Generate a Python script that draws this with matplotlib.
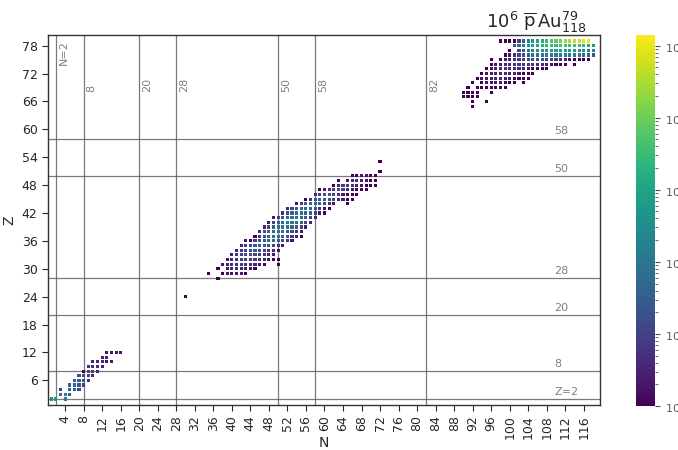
import numpy as np
import matplotlib
matplotlib.use("Agg")
import matplotlib.pyplot as plt
from matplotlib.colors import LogNorm

# each row: (Z, first N, counts for consecutive N; 0 = no entry)
light_rows = [
    (2, 1, [400, 400, 0, 150]),
    (3, 3, [120, 150, 40]),
    (4, 3, [8, 0, 60, 40, 10]),
    (5, 5, [50, 50, 25, 8]),
    (6, 6, [40, 40, 15, 5]),
    (7, 7, [20, 25, 12, 4]),
    (8, 8, [1, 12, 8, 4]),
    (9, 9, [5, 6, 5, 3]),
    (10, 10, [3, 4, 4, 2, 2]),
    (11, 12, [3, 3]),
    (12, 13, [2, 2, 2, 2]),
]

fission_rows = [
    (24, 30, [1]),
    (28, 37, [1]),
    (29, 35, [1, 0, 0, 1, 2, 2, 2, 2, 1]),
    (30, 37, [1, 0, 2, 3, 4, 3, 3, 2, 1]),
    (31, 38, [2, 3, 5, 6, 6, 5, 4, 3, 2, 1, 0, 0, 1]),
    (32, 39, [2, 4, 6, 8, 9, 8, 6, 4, 3, 2, 1, 1]),
    (33, 40, [3, 6, 10, 14, 15, 12, 8, 5, 3, 2]),
    (34, 41, [3, 7, 12, 20, 25, 22, 15, 8, 4, 2]),
    (35, 42, [3, 8, 15, 30, 40, 35, 25, 12, 5, 2]),
    (36, 43, [2, 1, 8, 20, 40, 55, 50, 35, 15, 6, 2]),
    (37, 45, [1, 6, 20, 45, 60, 65, 50, 25, 8, 3, 1]),
    (38, 46, [4, 15, 40, 65, 80, 65, 40, 15, 5, 2]),
    (39, 47, [3, 12, 35, 65, 85, 80, 55, 25, 8, 2]),
    (40, 48, [2, 10, 30, 60, 85, 90, 70, 40, 12, 3]),
    (41, 49, [2, 8, 25, 55, 80, 85, 65, 35, 10, 3]),
    (42, 51, [5, 20, 45, 70, 75, 55, 25, 8, 2, 1]),
    (43, 52, [3, 12, 35, 55, 60, 45, 20, 6, 2, 1]),
    (44, 54, [2, 8, 25, 40, 45, 35, 15, 5, 2, 0, 0, 1]),
    (45, 56, [1, 5, 15, 30, 35, 25, 10, 4, 2, 1, 1]),
    (46, 58, [3, 10, 20, 25, 15, 6, 2, 1, 1, 1]),
    (47, 59, [1, 2, 6, 12, 15, 10, 4, 2, 1, 1, 1]),
    (48, 62, [1, 3, 6, 8, 6, 3, 2, 1, 1, 1]),
    (49, 63, [1, 0, 2, 3, 4, 3, 2, 1, 1]),
    (50, 66, [1, 1, 2, 2, 1, 1]),
    (51, 72, [1]),
    (53, 72, [1]),
]

residue_rows = [
    (65, 92, [1]),
    (66, 92, [1, 0, 0, 1]),
    (67, 90, [1, 1, 1, 1]),
    (68, 90, [1, 1, 1, 1, 0, 0, 1]),
    (69, 91, [1, 0, 1, 1, 1, 1, 1, 1, 1]),
    (70, 92, [1, 0, 1, 2, 2, 2, 2, 1, 1, 1, 0, 1]),
    (71, 93, [1, 2, 2, 3, 3, 3, 2, 2, 1, 1, 1, 1]),
    (72, 94, [1, 2, 3, 3, 4, 4, 3, 3, 2, 1, 1, 1]),
    (73, 95, [1, 2, 3, 4, 5, 5, 5, 4, 3, 2, 1, 1, 1, 1]),
    (74, 96, [1, 2, 3, 4, 5, 6, 7, 7, 7, 6, 5, 4, 3, 2, 1, 1, 1, 0, 1]),
    (75, 96, [1, 0, 1, 2, 3, 5, 8, 10, 12, 15, 15, 15, 12, 10, 8, 5, 3, 2, 1, 1, 1, 1]),
    (76, 99, [1, 2, 5, 10, 20, 40, 60, 80, 100, 120, 150, 150, 150, 150, 120, 100, 80, 60, 40, 20]),
    (77, 100, [1, 0, 10, 30, 100, 200, 300, 500, 600, 700, 800, 800, 800, 700, 600, 500, 400, 300, 200]),
    (78, 101, [20, 40, 150, 400, 800, 1200, 2000, 2500, 3000, 3500, 4000, 4000, 4000, 3500, 3000, 2000, 1000, 500]),
    (79, 98, [1, 1, 1, 1, 8, 30, 150, 400, 800, 1500, 3000, 5000, 8000, 12000, 20000, 30000, 45000, 60000, 80000, 100000]),
]

magic_n = [2, 8, 20, 28, 50, 58, 82]
magic_z = [2, 8, 20, 28, 50, 58]

N, Z, C = [], [], []
for rows in (light_rows, fission_rows, residue_rows):
    for z, n0, counts in rows:
        for i, c in enumerate(counts):
            if c > 0:
                N.append(n0 + i)
                Z.append(z)
                C.append(c)
N = np.array(N)
Z = np.array(Z)
C = np.array(C, dtype=float)

fig = plt.figure(figsize=(6.78, 4.5), dpi=100)
ax = fig.add_axes([48 / 678, 45 / 450, 552 / 678, 370 / 450])
cax = fig.add_axes([636 / 678, 44 / 450, 19 / 678, 371 / 450])

for n in magic_n:
    ax.axvline(n, color="0.35", lw=0.9, alpha=0.8, zorder=1)
    if n == 2:
        ax.text(n + 0.6, 73.8, "N=2", rotation=90, ha="left", va="bottom",
                fontsize=8, color="0.5")
    else:
        ax.text(n + 0.6, 68, str(n), rotation=90, ha="left", va="bottom",
                fontsize=8, color="0.5")
for z in magic_z:
    ax.axhline(z, color="0.35", lw=0.9, alpha=0.8, zorder=1)
    lab = "Z=%d" % z if z == 2 else str(z)
    ax.text(109.6, z + 0.5, lab, ha="left", va="bottom",
            fontsize=8, color="0.5")

sc = ax.scatter(N, Z, c=C, cmap="viridis", norm=LogNorm(1, 1.4e5),
                marker="s", s=5, linewidths=0, zorder=3)

ax.set_xlim(0.3, 119.5)
ax.set_ylim(0.7, 80.3)
ax.set_xticks(np.arange(4, 117, 4))
ax.set_yticks(np.arange(6, 79, 6))
ax.tick_params(axis="x", labelrotation=90)
ax.tick_params(direction="out", length=4, width=0.8, labelsize=9,
               color="0.15", labelcolor="0.15")
for sp in ax.spines.values():
    sp.set_color("0.2")
    sp.set_linewidth(1)
ax.set_xlabel("N", fontsize=10, color="0.15")
ax.set_ylabel("Z", fontsize=10, color="0.15")
ax.xaxis.set_label_coords(0.5, -0.083)
fig.text(587 / 678, 1 - 28 / 450, r"10$^6$ $\overline{\rm p}\,$Au$^{79}_{118}$",
         ha="right", va="baseline", fontsize=13, color="0.15")

cb = fig.colorbar(sc, cax=cax)
cb.outline.set_visible(False)
cax.tick_params(which="both", color="0.3", labelcolor="0.35", labelsize=8)

fig.savefig("out.png", dpi=100)
